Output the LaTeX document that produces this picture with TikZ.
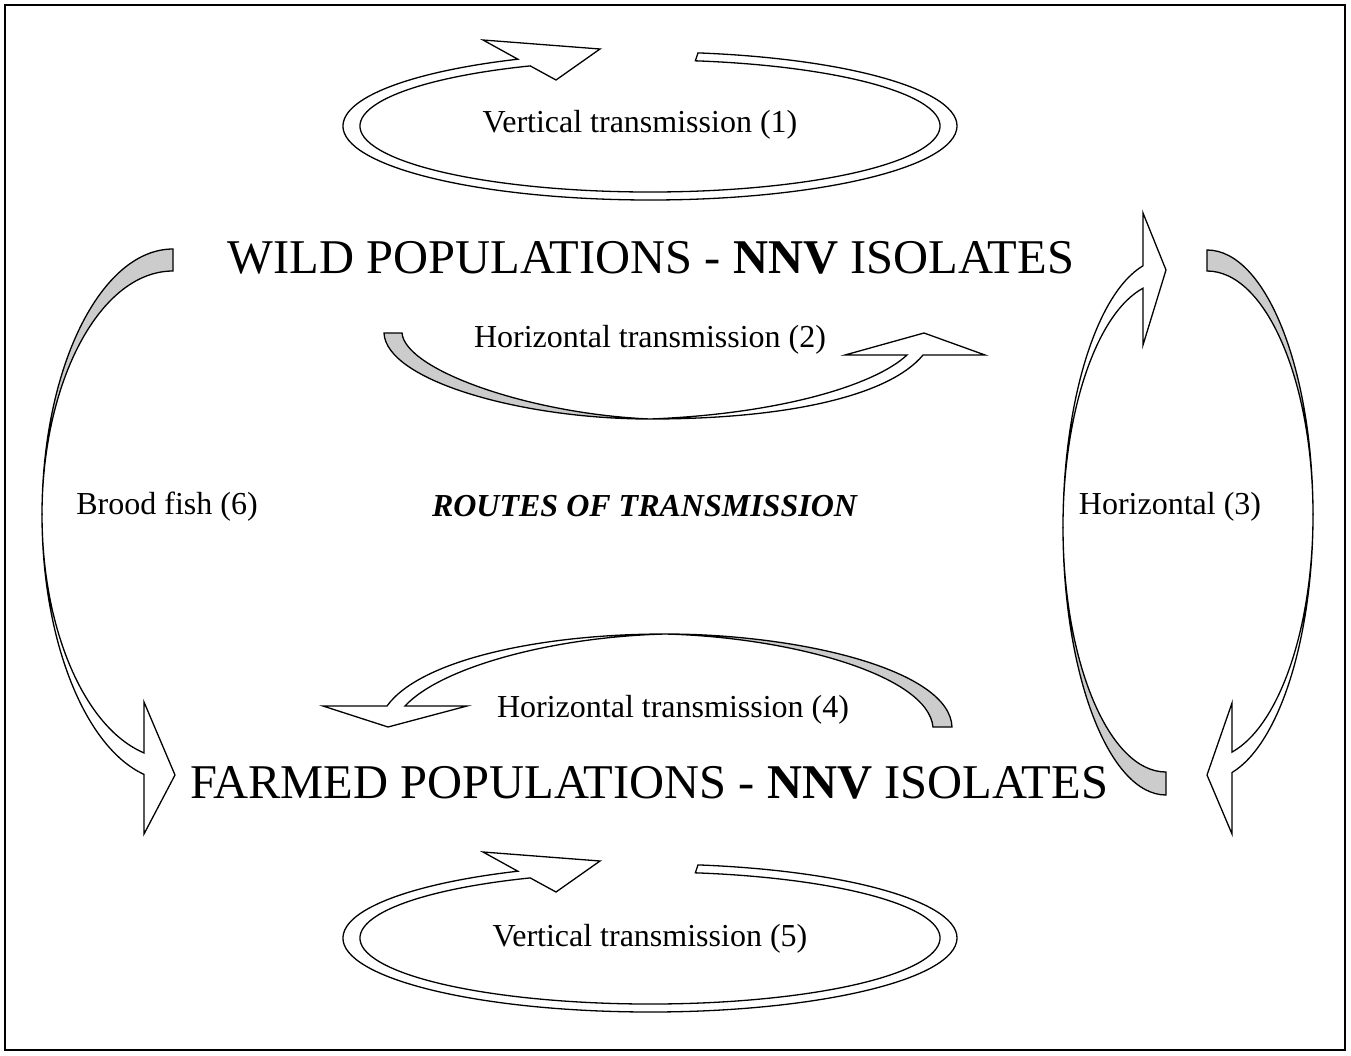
\documentclass[tikz,border=0pt]{standalone}
\usepackage{fontspec}
\setmainfont{Liberation Serif}
\definecolor{facegray}{RGB}{204,204,204}
\tikzset{
  band/.style={draw=black, line width=1.3pt, fill=white, line join=miter},
  bandgray/.style={band, fill=facegray},
  bigtext/.style={font=\fontsize{48.5}{52}\selectfont, inner sep=0pt},
  smalltext/.style={font=\fontsize{32}{36}\selectfont, inner sep=0pt},
}
\newcommand\drawring[1]{%
  \draw[band] (698.0,#1-73.1) arc[start angle=-81, end angle=244.5, x radius=307, y radius=74]
    -- (483,#1-86) -- (600,#1-77) -- (556,#1-46) -- (530.2,#1-60.1)
    arc[start angle=245.6, end angle=-81, x radius=290, y radius=66] -- cycle;}
\begin{document}
\begin{tikzpicture}[x=1pt, y=1pt, yscale=-1]
\useasboundingbox (0,0) rectangle (1351,1055);
\draw[line width=2pt] (5,5) rectangle (1345,1050);

% vertical transmission rings (1) and (5)
\drawring{126}
\drawring{938}

% horizontal transmission (2)
\draw[bandgray] (384,333) .. controls (386,380) and (520,419) .. (650,419)
  .. controls (530,414) and (405,370) .. (402,333) -- cycle;
\draw[band] (650,419) .. controls (790,419) and (890,395) .. (923,355)
  -- (985,355) -- (924,333) -- (845,355) -- (907,355)
  .. controls (875,385) and (780,414) .. (650,419) -- cycle;

% horizontal transmission (4)
\draw[bandgray] (952,727) .. controls (950,670) and (800,634) .. (665,634)
  .. controls (790,637) and (928,675) .. (933,727) -- cycle;
\draw[band] (665,634) .. controls (540,634) and (420,660) .. (387,706)
  -- (323,706) -- (388,727) -- (467,706) -- (405,706)
  .. controls (440,668) and (550,637) .. (665,634) -- cycle;

% brood fish (6)
\draw[bandgray] (173,249) arc[start angle=270, end angle=180, x radius=131, y radius=266]
  arc[start angle=180, end angle=270, x radius=131, y radius=244] -- cycle;
\draw[band] (42,515) arc[start angle=180, end angle=102.8, x radius=131, y radius=266]
  -- (144,834) -- (175,775) -- (144,702) -- (144,752.9)
  arc[start angle=102.8, end angle=180, x radius=131, y radius=244] -- cycle;

% horizontal (3): wild -> farmed (right)
\draw[bandgray] (1207,250) arc[start angle=270, end angle=360, x radius=106, y radius=265]
  arc[start angle=0, end angle=-90, x radius=106, y radius=244] -- cycle;
\draw[band] (1313,515) arc[start angle=0, end angle=76.36, x radius=106, y radius=265]
  -- (1232,834) -- (1207,775) -- (1232,703) -- (1232,752.1)
  arc[start angle=76.36, end angle=0, x radius=106, y radius=244] -- cycle;

% horizontal (3): farmed -> wild (left)
\draw[bandgray] (1166,795) arc[start angle=90, end angle=180, x radius=103, y radius=268]
  arc[start angle=180, end angle=90, x radius=103, y radius=245] -- cycle;
\draw[band] (1063,527) arc[start angle=180, end angle=257.1, x radius=103, y radius=268]
  -- (1143,213) -- (1166,270) -- (1143,345) -- (1143,288.2)
  arc[start angle=257.1, end angle=180, x radius=103, y radius=245] -- cycle;

% texts
\node[smalltext] (t1) at (640,125) {Vertical transmission (1)};
\node[bigtext] (wild) at (651,258) {WILD POPULATIONS - \textbf{NNV} ISOLATES};
\node[smalltext] (t2) at (650,340) {Horizontal transmission (2)};
\node[smalltext] (routes) at (645,506) {\textbf{\textit{ROUTES OF TRANSMISSION}}};
\node[smalltext] (t6) at (167,507) {Brood fish (6)};
\node[smalltext] (t3) at (1170,507) {Horizontal (3)};
\node[smalltext] (t4) at (673,710) {Horizontal transmission (4)};
\node[bigtext] (farmed) at (649,783) {FARMED POPULATIONS - \textbf{NNV} ISOLATES};
\node[smalltext] (t5) at (650,939) {Vertical transmission (5)};
\end{tikzpicture}
\end{document}
